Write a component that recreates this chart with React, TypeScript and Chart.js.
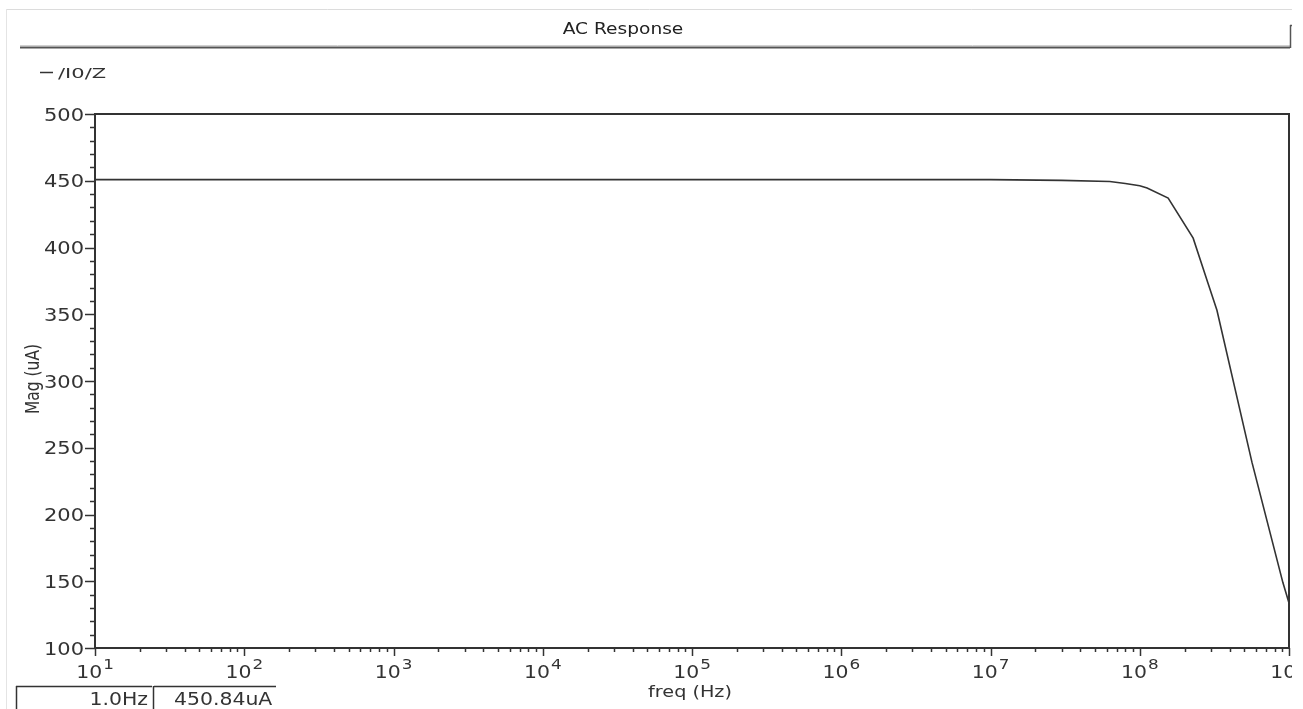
import { useEffect, useRef } from "react";
import { Chart, registerables } from "chart.js";

Chart.register(...registerables);

// ---- data ----
const freqs = [1e1, 1e2, 1e3, 1e4, 1e5, 1e6, 1e7, 3.0e7, 6.3e7, 8.0e7, 1.0e8, 1.12e8, 1.55e8, 2.28e8, 2.87e8, 3.29e8, 5.65e8, 9.1e8, 1e9];
const mags = [450.84, 450.84, 450.84, 450.84, 450.84, 450.84, 450.84, 450.3, 449.4, 448, 446.2, 444.5, 437, 407, 373, 353, 239, 149, 133.7];
const yTicks = [100, 150, 200, 250, 300, 350, 400, 450, 500];
const xDecades = [1, 2, 3, 4, 5, 6, 7, 8, 9];
const titleText = "AC Response";
const legendText = "/I0/Z";
const xLabel = "freq (Hz)";
const yLabel = "Mag (uA)";
const markerFreq = "1.0Hz";
const markerVal = "450.84uA";

const SX = 1.2; // horizontal text stretch of the reference
const FONT = "DejaVu Sans";

function txt(ctx: CanvasRenderingContext2D, s: string, x: number, y: number, align: CanvasTextAlign, size: number, color = "#333", sx = SX) {
  ctx.save();
  ctx.translate(x, y);
  ctx.scale(sx, 1);
  ctx.font = `${size}px "${FONT}"`;
  ctx.fillStyle = color;
  ctx.textAlign = align;
  ctx.textBaseline = "alphabetic";
  ctx.fillText(s, 0, 0);
  ctx.restore();
}

function line(ctx: CanvasRenderingContext2D, x1: number, y1: number, x2: number, y2: number, color: string, w: number) {
  ctx.save();
  ctx.strokeStyle = color;
  ctx.lineWidth = w;
  ctx.beginPath();
  ctx.moveTo(x1, y1);
  ctx.lineTo(x2, y2);
  ctx.stroke();
  ctx.restore();
}

const decor = {
  id: "decor",
  afterDraw(chart: any) {
    const ctx: CanvasRenderingContext2D = chart.ctx;
    const { left, right, top, bottom } = chart.chartArea;
    const xs = chart.scales.x;
    const ys = chart.scales.y;
    ctx.save();
    ctx.beginPath();
    ctx.rect(0, 0, 1292, 709);
    ctx.clip();

    // window edges
    line(ctx, 6, 9.5, 1303, 9.5, "#dcdcdc", 1);
    line(ctx, 6.5, 9, 6.5, 709, "#e4e4e4", 1);

    // title bar
    txt(ctx, titleText, 623, 34, "center", 15.5, "#222");
    line(ctx, 20, 45.5, 1290, 45.5, "#d0d0d0", 1);
    line(ctx, 20, 47.5, 1290, 47.5, "#555", 2);
    line(ctx, 1290.5, 25, 1290.5, 48, "#555", 1.5);
    line(ctx, 1290, 25.5, 1295, 25.5, "#555", 1.5);

    // legend
    line(ctx, 40, 72.5, 53, 72.5, "#333", 1.5);
    txt(ctx, legendText, 58, 77.5, "left", 14, "#333", 1.5);

    // frame
    line(ctx, left, top, right + 1, top, "#333", 2);
    line(ctx, right, top, right, bottom, "#333", 2);
    line(ctx, left, top - 1, left, bottom + 1, "#333", 2);
    line(ctx, left - 1, bottom, right + 1, bottom, "#333", 2);

    // y ticks
    for (let v = 100; v <= 500; v += 10) {
      const py = Math.round(ys.getPixelForValue(v)) + 0.5;
      const major = v % 50 === 0;
      line(ctx, major ? left - 10 : left - 5, py, left, py, "#333", 1.5);
    }
    for (const v of yTicks) {
      const py = ys.getPixelForValue(v);
      txt(ctx, String(v), left - 11, py + 6.5, "right", 17.5, "#333");
    }

    // x ticks
    for (const d of xDecades) {
      const base = Math.pow(10, d);
      const px = Math.round(xs.getPixelForValue(base)) + 0.5;
      line(ctx, px, bottom, px, bottom + 8, "#333", 1.5);
      if (d < 9) {
        for (let m = 2; m <= 9; m++) {
          const mx = Math.round(xs.getPixelForValue(base * m)) + 0.5;
          line(ctx, mx, bottom, mx, bottom + 4, "#333", 1.5);
        }
      }
      // superscript label
      ctx.save();
      ctx.font = `17px "${FONT}"`;
      const w1 = ctx.measureText("10").width * SX;
      ctx.font = `14px "${FONT}"`;
      const w2 = ctx.measureText(String(d)).width * SX;
      ctx.restore();
      const sx = xs.getPixelForValue(base) - (w1 + w2 + 1) / 2;
      txt(ctx, "10", sx, 678, "left", 17, "#333");
      txt(ctx, String(d), sx + w1 + 1, 669, "left", 14, "#333");
    }

    // axis titles
    txt(ctx, xLabel, 690, 697, "center", 16, "#333");
    ctx.save();
    ctx.translate(39, 379);
    ctx.rotate(-Math.PI / 2);
    ctx.scale(1, SX);
    ctx.font = `15.5px "${FONT}"`;
    ctx.fillStyle = "#333";
    ctx.textAlign = "center";
    ctx.fillText(yLabel, 0, 0);
    ctx.restore();

    // marker boxes
    line(ctx, 16, 686.5, 152, 686.5, "#333", 1.5);
    line(ctx, 16.5, 686, 16.5, 709, "#333", 1.5);
    line(ctx, 154, 686.5, 276, 686.5, "#333", 1.5);
    line(ctx, 153.5, 686, 153.5, 709, "#333", 1.5);
    txt(ctx, markerFreq, 148, 705, "right", 17, "#333");
    txt(ctx, markerVal, 174, 705, "left", 17, "#333");

    ctx.restore();
  },
};

export default function App() {
  const ref = useRef<HTMLCanvasElement | null>(null);
  useEffect(() => {
    if (!ref.current) return;
    const chart = new Chart(ref.current, {
      type: "line",
      data: {
        datasets: [
          {
            label: legendText,
            data: freqs.map((f, i) => ({ x: f, y: mags[i] })),
            borderColor: "#333",
            borderWidth: 1.6,
            pointRadius: 0,
            tension: 0,
            fill: false,
          },
        ],
      },
      options: {
        responsive: false,
        animation: false,
        devicePixelRatio: 1,
        layout: { padding: { left: 95, top: 114, right: 14, bottom: 61 } },
        plugins: { legend: { display: false }, tooltip: { enabled: false }, title: { display: false } },
        scales: {
          x: { type: "logarithmic", min: 10, max: 1e9, display: false },
          y: { type: "linear", min: 100, max: 500, display: false },
        },
      },
      plugins: [decor],
    });
    return () => chart.destroy();
  }, []);
  return (
    <div style={{ position: "absolute", left: 0, top: 0, width: 1303, height: 709, background: "#fff" }}>
      <canvas ref={ref} width={1303} height={709} style={{ display: "block" }} />
    </div>
  );
}
